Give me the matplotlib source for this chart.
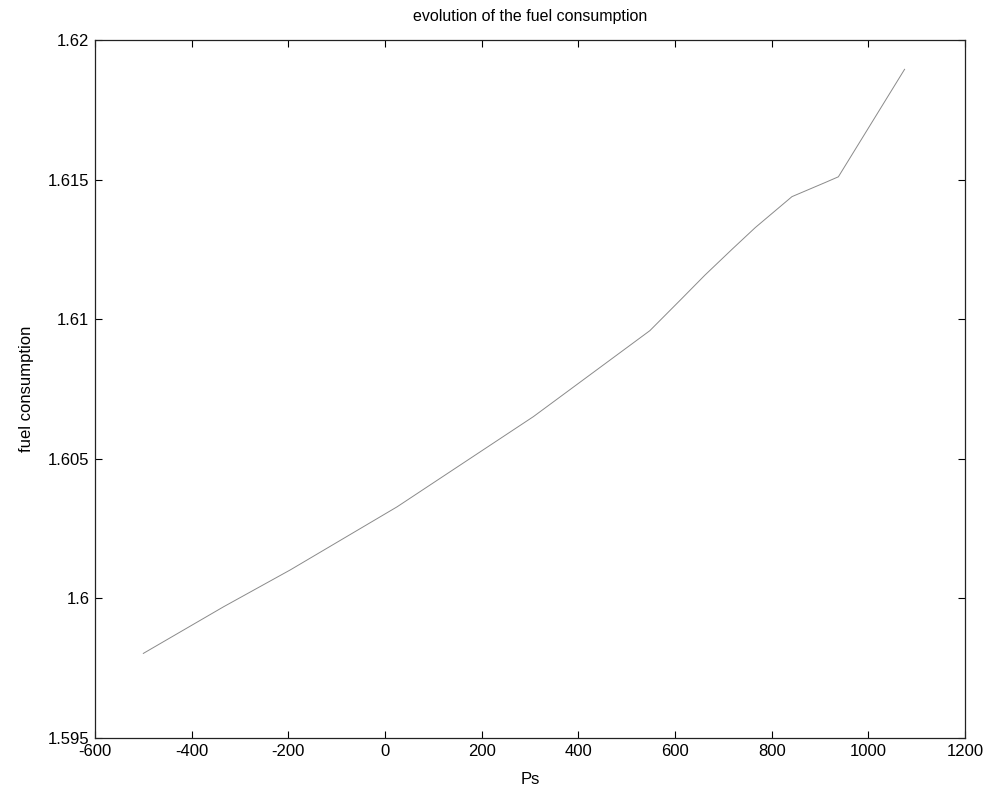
import matplotlib
matplotlib.use("Agg")
import matplotlib.pyplot as plt
import matplotlib.ticker as ticker

# ── Data ─────────────────────────────────────────────────────────────────────
ps = [-500, -334, -196, 25, 307, 548, 613, 662, 719, 766, 842, 910, 938, 1075]
fuel = [1.59803, 1.59970, 1.60102, 1.60328, 1.60651, 1.60959, 1.61072, 1.61158,
        1.61252, 1.61328, 1.61439, 1.61489, 1.61510, 1.61895]

x_ticks = [-600, -400, -200, 0, 200, 400, 600, 800, 1000, 1200]
y_ticks = [1.595, 1.6, 1.605, 1.61, 1.615, 1.62]

plt.rcParams["font.family"] = ["Liberation Sans", "DejaVu Sans"]

fig = plt.figure(figsize=(9.87, 7.86), dpi=100, facecolor="white")
ax = fig.add_axes([95 / 987, 1 - 738 / 786, 870 / 987, 698 / 786])

ax.plot(ps, fuel, color="#8a8a8a", linewidth=0.7)

ax.set_xlim(-600, 1200)
ax.set_ylim(1.595, 1.62)
ax.set_xticks(x_ticks)
ax.set_yticks(y_ticks)
ax.xaxis.set_major_formatter(ticker.FuncFormatter(lambda v, _: f"{v:g}"))
ax.yaxis.set_major_formatter(ticker.FuncFormatter(lambda v, _: f"{v:g}"))

# MATLAB-like box with inward ticks on every side
ax.tick_params(direction="in", top=True, right=True, length=5, width=0.8,
               labelsize=12, pad=4)
for s in ax.spines.values():
    s.set_linewidth(0.9)
    s.set_color("#222222")

ax.set_title("evolution of the fuel consumption", fontsize=11.5, pad=14)
ax.set_xlabel("Ps", fontsize=12, labelpad=10)
ax.set_ylabel("fuel consumption", fontsize=12, labelpad=10)

fig.savefig("out.png", dpi=100, facecolor="white")
